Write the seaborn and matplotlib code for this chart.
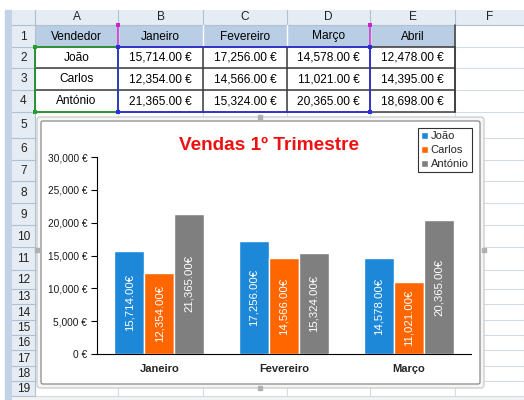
import matplotlib
matplotlib.use("Agg")
import matplotlib.pyplot as plt
from matplotlib.patches import Rectangle, FancyBboxPatch
import seaborn as sns
import pandas as pd

# dados da folha
meses = ['Janeiro', 'Fevereiro', 'Março', 'Abril']
vendedores = ['João', 'Carlos', 'António']
joao = [15714, 17256, 14578, 12478]
carlos = [12354, 14566, 11021, 14395]
antonio = [21365, 15324, 20365, 18698]
cores = ['#1E88D8', '#FF6600', '#7F7F7F']
titulo = 'Vendas 1º Trimestre'

W, H = 524, 400

sns.set_style("white")
plt.rcParams['font.family'] = ['Liberation Sans', 'DejaVu Sans']

fig = plt.figure(figsize=(W / 100, H / 100), dpi=100)


def fx(x):
    return x / W


def fy(y):
    return 1 - y / H


# ---------- folha de calculo ----------
sheet = fig.add_axes([0, 0, 1, 1])
sheet.set_xlim(0, W)
sheet.set_ylim(H, 0)
sheet.axis('off')

col_x = [12, 35, 118, 203, 287, 370, 455, 524]
row_y = [10, 25, 47, 68, 90, 112, 138, 160, 181, 203, 225, 247, 270,
         289, 304, 320, 335, 350, 366, 381, 396]
grid = '#D4DBE6'
hdr = '#E6ECF3'
hdr_line = '#AFC0D3'

sheet.add_patch(Rectangle((0, 0), W, H, color='white'))
sheet.add_patch(Rectangle((5, 10), 6, H - 10, color='#C3D3E6'))

# linhas de grelha
for x in col_x[2:]:
    sheet.plot([x, x], [25, 396], color=grid, lw=0.8)
for y in row_y[2:]:
    sheet.plot([35, W], [y, y], color=grid, lw=0.8)

# cabecalhos de linhas e colunas
sheet.add_patch(Rectangle((12, 10), W - 12, 15, fc=hdr, ec='none'))
sheet.add_patch(Rectangle((12, 10), 23, 386, fc=hdr, ec='none'))
sheet.plot([12, W], [25, 25], color=hdr_line, lw=0.8)
sheet.plot([35, 35], [10, 396], color=hdr_line, lw=0.8)
for i, letra in enumerate('ABCDEF'):
    sheet.plot([col_x[i + 1], col_x[i + 1]], [10, 25], color=hdr_line, lw=0.8)
    sheet.text((col_x[i + 1] + col_x[i + 2]) / 2, 17.5, letra, ha='center',
               va='center', fontsize=8.6, color='#222222')
for r in range(1, 20):
    sheet.plot([12, 35], [row_y[r + 1], row_y[r + 1]], color=hdr_line, lw=0.8)
    sheet.text(23.5, (row_y[r] + row_y[r + 1]) / 2 + 0.5, str(r), ha='center',
               va='center', fontsize=8.6, color='#222222')
sheet.add_patch(Rectangle((12, 396), W - 12, 4, fc='#F2F2F2', ec='none'))

# tabela A1:E4
sheet.add_patch(Rectangle((35, 25), 420, 22, fc='#B9CDE5', ec='none'))
for x in col_x[2:6]:
    sheet.plot([x, x], [25, 47], color='white', lw=1.0)
borda = '#3C3C3C'
for y in row_y[2:6]:
    sheet.plot([35, 455], [y, y], color=borda, lw=1.1)
for x in col_x[1:7]:
    sheet.plot([x, x], [47, 112], color=borda, lw=1.1)
sheet.plot([455, 455], [25, 112], color=borda, lw=1.1)

linhas = [['Vendedor'] + meses]
for nome, vals in zip(vendedores, [joao, carlos, antonio]):
    linhas.append([nome] + [f"{v:,.2f} €" for v in vals])
for r, linha in enumerate(linhas):
    yc = (row_y[r + 1] + row_y[r + 2]) / 2 + 0.5
    for c, txt in enumerate(linha):
        xc = (col_x[c + 1] + col_x[c + 2]) / 2
        sheet.text(xc, yc, txt, ha='center', va='center', fontsize=8.6,
                   color='black')

# realce das series do grafico
sheet.plot([35, 118, 118, 35, 35], [47, 47, 112, 112, 47], color='#22A02A', lw=1.1)
sheet.plot([118, 118], [25, 47], color='#C828C8', lw=1.1)
sheet.plot([370, 370], [25, 47], color='#C828C8', lw=1.1)
sheet.plot([118, 370, 370, 118, 118], [47, 47, 112, 112, 47], color='#2B2BE0', lw=1.1)
for (x, y, c) in [(35, 47, '#22A02A'), (35, 112, '#22A02A'), (118, 47, '#2B2BE0'),
                  (118, 112, '#2B2BE0'), (370, 47, '#2B2BE0'), (370, 112, '#2B2BE0'),
                  (118, 25, '#C828C8'), (370, 25, '#C828C8')]:
    sheet.add_patch(Rectangle((x - 2, y - 2), 4, 4, fc=c, ec='none', zorder=5))

# moldura do grafico
sheet.add_patch(FancyBboxPatch((37, 117), 447, 271, boxstyle='round,pad=0,rounding_size=3',
                               fc='#F6F6F6', ec='#C4C4C4', lw=0.8, zorder=6))
sheet.add_patch(FancyBboxPatch((41, 121), 439, 263, boxstyle='round,pad=0,rounding_size=2',
                               fc='white', ec='#8A8A8A', lw=0.9, zorder=7))
# pegas da moldura (pontinhos)
for (x, y) in [(37, 250), (484, 250), (260, 117), (260, 388)]:
    sheet.plot([x], [y], marker='s', ms=2.2, color='#B0B0B0', zorder=8)

# ---------- grafico ----------
df = pd.DataFrame({
    'Mes': meses[:3] * 3,
    'Vendedor': [v for v in vendedores for _ in range(3)],
    'Valor': joao[:3] + carlos[:3] + antonio[:3],
})

ax = fig.add_axes([fx(97), fy(354), fx(471) - fx(97), fy(157) - fy(354)])
ax.patch.set_alpha(0)
sns.barplot(data=df, x='Mes', y='Valor', hue='Vendedor', palette=cores,
            width=0.72, saturation=1, errorbar=None, ax=ax)

for cont in ax.containers:
    ax.bar_label(cont, labels=[f"{v:,.2f}€" for v in cont.datavalues],
                 label_type='center', rotation=90, color='white', fontsize=8.2)

ax.set_ylim(0, 30000)
ax.set_yticks(range(0, 30001, 5000))
ax.set_yticklabels([f"{v:,} €" for v in range(0, 30001, 5000)], fontsize=7.3,
                   color='#1A1A1A')
ax.set_xlim(-0.5, 2.5)
ax.set_xticks([-0.5, 0.5, 1.5, 2.5], labels=['', '', '', ''])
ax.set_xticks([0, 1, 2], labels=meses[:3], minor=True)
ax.tick_params(axis='x', which='major', direction='inout', length=7, width=0.8,
               color='black')
ax.tick_params(axis='x', which='minor', length=0, pad=7, labelsize=8)
for lab in ax.get_xticklabels(minor=True):
    lab.set_fontweight('bold')
ax.tick_params(axis='y', direction='out', length=4, width=0.8, pad=3, color='black', left=True)
ax.set_xlabel('')
ax.set_ylabel('')
sns.despine(ax=ax)
for s in ['left', 'bottom']:
    ax.spines[s].set_color('black')
    ax.spines[s].set_linewidth(0.8)

handles, labels = ax.get_legend_handles_labels()
ax.legend(handles, labels, loc='upper left', bbox_to_anchor=(fx(418), fy(128)),
          bbox_transform=fig.transFigure, fontsize=8, frameon=True, fancybox=False,
          edgecolor='black', handlelength=0.6, handleheight=0.6, handletextpad=0.25,
          labelspacing=0.35, borderpad=0.3, borderaxespad=0)
ax.get_legend().get_frame().set_linewidth(0.8)

fig.text(fx(269), fy(145), titulo, ha='center', va='center', fontsize=13.7,
         fontweight='bold', color='#EE1111')

fig.savefig('out.png', dpi=100)
